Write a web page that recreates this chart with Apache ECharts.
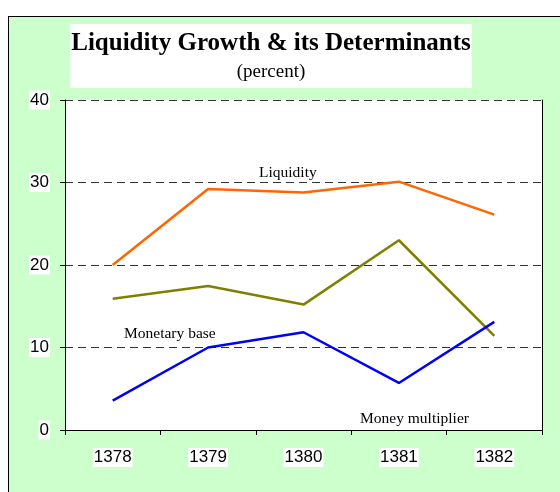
<!DOCTYPE html>
<html>
<head>
<meta charset="utf-8">
<script src="https://cdn.jsdelivr.net/npm/echarts@6/dist/echarts.min.js"></script>
<style>
html,body{margin:0;padding:0;background:#fff;width:560px;height:492px;overflow:hidden;}
#bg{position:absolute;left:8px;top:16px;width:560px;height:480px;background:#CCFFCC;border-left:1px solid #000;border-top:1px solid #000;}
#chart{position:absolute;left:0;top:0;width:560px;height:492px;}
</style>
</head>
<body>
<div id="bg"></div>
<div id="chart"></div>
<script>
const years = ['1378', '1379', '1380', '1381', '1382'];
const liquidity = [20.0, 29.2, 28.8, 30.1, 26.1];
const monetaryBase = [15.9, 17.45, 15.2, 23.0, 11.4];
const moneyMultiplier = [3.55, 10.0, 11.85, 5.7, 13.1];
const yTicks = [0, 10, 20, 30, 40];

const chart = echarts.init(document.getElementById('chart'), null, {renderer: 'canvas'});
const serifFont = '"Liberation Serif", "Times New Roman", serif';
const sansFont = '"Liberation Sans", Arial, sans-serif';

chart.setOption({
  animation: false,
  backgroundColor: 'transparent',
  title: {
    text: 'Liquidity Growth & its Determinants',
    subtext: '(percent)',
    left: 270,
    top: 24,
    textAlign: 'center',
    backgroundColor: '#fff',
    padding: [7, 1, 6, 1],
    itemGap: 7,
    textStyle: {fontFamily: serifFont, fontWeight: 'bold', fontSize: 25, color: '#000'},
    subtextStyle: {fontFamily: serifFont, fontSize: 19, color: '#000'}
  },
  grid: {left: 65, right: 18, top: 100, bottom: 62, show: true, backgroundColor: '#fff', borderWidth: 0},
  xAxis: {
    type: 'category',
    data: years,
    boundaryGap: true,
    axisLine: {lineStyle: {color: '#000', width: 1}},
    axisTick: {show: true, length: 5, lineStyle: {color: '#000'}},
    axisLabel: {fontFamily: sansFont, fontSize: 17, color: '#000', backgroundColor: '#fff', padding: [1, 1], margin: 18}
  },
  yAxis: [{
    type: 'value',
    min: 0, max: 40, interval: 10,
    axisLine: {show: true, lineStyle: {color: '#000', width: 1}},
    axisTick: {show: true, length: 5, lineStyle: {color: '#000'}},
    axisLabel: {fontFamily: sansFont, fontSize: 17, color: '#000', backgroundColor: '#fff', padding: [1, 1], margin: 15,
      formatter: v => yTicks.includes(v) ? String(v) : ''},
    splitLine: {show: true, lineStyle: {color: '#333', type: [8, 5], width: 1}}
  }, {
    type: 'value',
    position: 'right',
    min: 0, max: 40, interval: 10,
    axisLine: {show: true, onZero: false, lineStyle: {color: '#000', width: 1}},
    axisTick: {show: false},
    axisLabel: {show: false},
    splitLine: {show: false}
  }],
  series: [
    {name: 'Liquidity', type: 'line', data: liquidity, symbol: 'none', lineStyle: {color: '#FF6600', width: 2.5}},
    {name: 'Monetary base', type: 'line', data: monetaryBase, symbol: 'none', lineStyle: {color: '#808000', width: 2.5}},
    {name: 'Money multiplier', type: 'line', data: moneyMultiplier, symbol: 'none', lineStyle: {color: '#0000FF', width: 2.5}}
  ],
  graphic: [
    {type: 'text', left: 259, top: 165, z: 100, style: {text: 'Liquidity', font: '15.5px ' + serifFont, fill: '#000'}},
    {type: 'text', left: 124, top: 326, z: 100, style: {text: 'Monetary base', font: '15.5px ' + serifFont, fill: '#000'}},
    {type: 'text', left: 360, top: 411, z: 100, style: {text: 'Money multiplier', font: '15.5px ' + serifFont, fill: '#000'}}
  ]
});
</script>
</body>
</html>
